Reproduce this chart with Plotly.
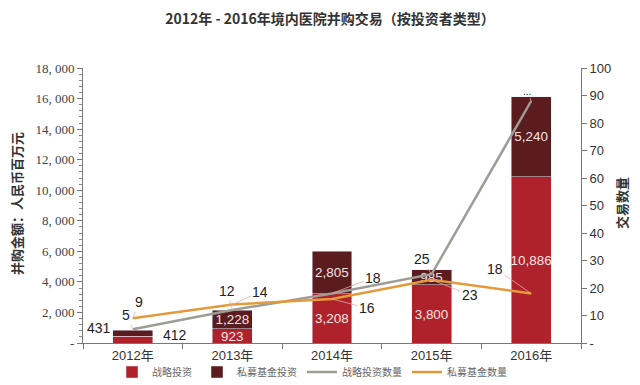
import plotly.graph_objects as go

years = ["2012年", "2013年", "2014年", "2015年", "2016年"]
strategic_amt = [431, 923, 3208, 3800, 10886]
pe_amt = [412, 1228, 2805, 985, 5240]
strategic_cnt = [5, 12, 18, 25, 88]
pe_cnt = [9, 14, 16, 23, 18]
left_ticks = [0, 2000, 4000, 6000, 8000, 10000, 12000, 14000, 16000, 18000]
left_ticktext = ["-", "2, 000", "4, 000", "6, 000", "8, 000", "10, 000", "12, 000", "14, 000", "16, 000", "18, 000"]
right_ticks = [0, 10, 20, 30, 40, 50, 60, 70, 80, 90, 100]
right_ticktext = ["-", "10", "20", "30", "40", "50", "60", "70", "80", "90", "100"]

CJK = "Noto Sans CJK SC"
RED = "#b0222b"
DARK = "#5a1c1f"
GRAY = "#9d9c95"
ORANGE = "#e39a3b"

def fmt(v):
    return f"{v:,}"

s_text = [""] + [fmt(v) for v in strategic_amt[1:]]
p_text = [""] + [fmt(v) for v in pe_amt[1:]]

fig = go.Figure()
fig.add_trace(go.Bar(x=years, y=strategic_amt, name="战略投资", marker_color=RED,
                     text=s_text, textposition="inside", insidetextanchor="middle",
                     textfont=dict(color="#f6e4e4", size=14, family="Arial"), textangle=0))
fig.add_trace(go.Bar(x=years, y=pe_amt, name="私募基金投资", marker_color=DARK,
                     text=p_text, textposition="inside", insidetextanchor="middle",
                     textfont=dict(color="#f6e4e4", size=14, family="Arial"), textangle=0))
fig.add_trace(go.Scatter(x=years, y=strategic_cnt, name="战略投资数量", mode="lines",
                         line=dict(color=GRAY, width=2.5), yaxis="y2"))
fig.add_trace(go.Scatter(x=years, y=pe_cnt, name="私募基金数量", mode="lines",
                         line=dict(color=ORANGE, width=2.5), yaxis="y2"))

# page has an 8px body margin; work in figure coordinates = page - 8
OFF = 8
W, H = 640 - OFF, 385 - OFF
plot_l, plot_r, plot_t, plot_b = 83 - OFF, 581 - OFF, 68 - OFF, 343 - OFF
pw, ph = plot_r - plot_l, plot_b - plot_t

def px(xp):
    return (xp - OFF - plot_l) / pw

def py(yp):
    return (plot_b - (yp - OFF)) / ph

annotations = []
offsets_s = [(-7, -14), (-5, -19), (41, -16), (-10, -15), (-4, -10)]
offsets_p = [(6, -16), (28, -13), (35, 9), (38, 15), (-36, -25)]
s_labels = [str(v) for v in strategic_cnt[:-1]] + ["..."]
for i, yr in enumerate(years):
    ax, ay = offsets_s[i]
    annotations.append(dict(x=yr, y=strategic_cnt[i], xref="x", yref="y2", text=s_labels[i],
                            showarrow=True, arrowhead=0, arrowwidth=0.8, arrowcolor="#e8a8a8",
                            ax=ax, ay=ay, font=dict(size=14 if i < 4 else 10, color="#222", family="Arial")))
    ax, ay = offsets_p[i]
    annotations.append(dict(x=yr, y=pe_cnt[i], xref="x", yref="y2", text=str(pe_cnt[i]),
                            showarrow=True, arrowhead=0, arrowwidth=0.8, arrowcolor="#e8a8a8",
                            ax=ax, ay=ay, font=dict(size=14, color="#222", family="Arial")))
annotations.append(dict(x=years[0], y=0, xref="x", yref="y", text=fmt(strategic_amt[0]),
                        showarrow=False, xshift=-34, yshift=15, font=dict(size=14, color="#222", family="Arial")))
annotations.append(dict(x=years[0], y=0, xref="x", yref="y", text=fmt(pe_amt[0]),
                        showarrow=False, xshift=42, yshift=8, font=dict(size=14, color="#222", family="Arial")))
annotations.append(dict(x=px(16), y=py(204), xref="paper", yref="paper", xanchor="center", yanchor="middle",
                        text="<b>并购金额：人民币百万元</b>", showarrow=False, textangle=-90,
                        font=dict(size=13, color="#333", family=CJK)))
annotations.append(dict(x=px(621), y=py(203), xref="paper", yref="paper", xanchor="center", yanchor="middle",
                        text="<b>交易数量</b>", showarrow=False, textangle=-90,
                        font=dict(size=13, color="#333", family=CJK)))

fig.update_layout(
    width=W, height=H,
    margin=dict(l=plot_l, r=W - plot_r, t=plot_t, b=H - plot_b, autoexpand=False),
    paper_bgcolor="white", plot_bgcolor="white",
    barmode="stack", bargap=0.6,
    uniformtext=dict(minsize=13, mode="show"),
    title=dict(text="<b>2012年 - 2016年境内医院并购交易（按投资者类型）</b>", x=(330 - OFF) / W,
               xanchor="center", xref="container", y=1 - (19 - OFF) / H, yanchor="middle",
               font=dict(size=14, color="#333", family=CJK)),
    xaxis=dict(type="category", showline=True, linecolor="#777", linewidth=1, tickson="boundaries",
               ticks="outside", ticklen=5, tickcolor="#777", showgrid=False, automargin=False,
               tickfont=dict(size=13, color="#333", family="Arial, " + CJK)),
    yaxis=dict(range=[0, 18000], tickvals=left_ticks, ticktext=left_ticktext, showline=True,
               linecolor="#777", linewidth=1, ticks="outside", ticklen=5, tickcolor="#777",
               showgrid=False, zeroline=False, automargin=False,
               minor=dict(dtick=400, ticks="outside", ticklen=3, tickcolor="#888"),
               tickfont=dict(size=13, color="#444", family="Liberation Serif")),
    yaxis2=dict(range=[0, 100], tickvals=right_ticks, ticktext=right_ticktext, overlaying="y",
                side="right", showline=True, linecolor="#777", linewidth=1, ticks="outside",
                ticklen=5, tickcolor="#777", showgrid=False, zeroline=False, automargin=False,
                tickfont=dict(size=13, color="#333", family="Arial")),
    legend=dict(orientation="h", x=px(312), xanchor="center", y=py(372), yanchor="middle",
                traceorder="normal", font=dict(size=10, color="#666", family=CJK),
                tracegroupgap=0, bgcolor="rgba(0,0,0,0)"),
    annotations=annotations,
    showlegend=True,
)

fig.write_html("out.html")
